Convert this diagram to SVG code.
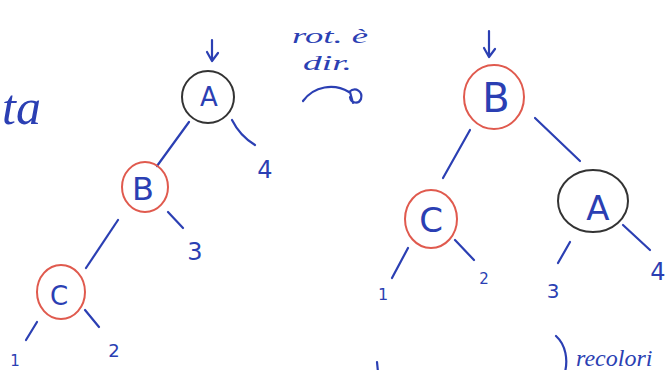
<svg xmlns="http://www.w3.org/2000/svg" width="670" height="370" viewBox="0 0 670 370">
<style>
.ink{fill:none;stroke:#2b3fb3;stroke-width:2.2;stroke-linecap:round;stroke-linejoin:round}
.red{fill:none;stroke:#e05a4e;stroke-width:2}
.blk{fill:none;stroke:#333;stroke-width:2}
.lbl{fill:#2b3fb3;font-family:"DejaVu Sans","Liberation Sans",sans-serif;text-anchor:middle}
.hand{fill:#2b3fb3;font-family:"Liberation Serif",serif;font-style:italic}
</style>
<rect width="670" height="370" fill="#fff"/>
<text class="hand" x="2" y="124" font-size="50">ta</text>
<text class="hand" x="292" y="43" font-size="22" textLength="76" lengthAdjust="spacingAndGlyphs">rot. è</text>
<text class="hand" x="303" y="70" font-size="22" textLength="49" lengthAdjust="spacingAndGlyphs">dir.</text>
<path class="ink" d="M303,101 C314,86 334,83 349,92"/>
<path class="ink" d="M349,92 C356,86 363,92 361,99 C359,104 351,104 350,97 M350,92 L353,103"/>

<g id="connectors">
<path class="ink" d="M212,40 L212,60 M207,52 L212,61 L218,53"/>
<path class="ink" d="M489,31 L489,56 M484,48 L489,57 L495,49"/>
<path class="ink" d="M189,122 L157,166"/>
<path class="ink" d="M232,120 Q240,136 255,145"/>
<path class="ink" d="M168,212 L183,228"/>
<path class="ink" d="M118,220 L86,268"/>
<path class="ink" d="M37,322 L26,340"/>
<path class="ink" d="M85,310 L99,327"/>
<path class="ink" d="M470,130 L443,178"/>
<path class="ink" d="M535,118 L580,161"/>
<path class="ink" d="M408,248 L392,278"/>
<path class="ink" d="M455,240 L474,260"/>
<path class="ink" d="M570,242 L558,263"/>
<path class="ink" d="M623,225 L650,250"/>
<path class="ink" d="M377,362 L378,372"/>
<path class="ink" d="M556,336 C566,345 568,360 565,372"/>
</g>

<g id="nodeA1"><ellipse class="blk" cx="208" cy="97" rx="26" ry="26"/><text class="lbl" x="209" y="106" font-size="26">A</text></g>
<g id="nodeB1"><ellipse class="red" cx="145" cy="187" rx="23" ry="25"/><text class="lbl" x="143" y="200" font-size="32">B</text></g>
<g id="nodeC1"><ellipse class="red" cx="61" cy="292" rx="24" ry="27"/><text class="lbl" x="59" y="305" font-size="26">C</text></g>
<g id="leaf4a"><text class="lbl" x="265" y="178" font-size="24">4</text></g>
<g id="leaf3a"><text class="lbl" x="195" y="260" font-size="24">3</text></g>
<g id="leaf2a"><text class="lbl" x="114" y="357" font-size="18">2</text></g>
<g id="leaf1a"><text class="lbl" x="15" y="366" font-size="15">1</text></g>

<g id="nodeB2"><ellipse class="red" cx="494" cy="97" rx="30" ry="32"/><text class="lbl" x="496" y="112" font-size="40">B</text></g>
<g id="nodeC2"><ellipse class="red" cx="431" cy="219" rx="26" ry="29"/><text class="lbl" x="431" y="232" font-size="34">C</text></g>
<g id="nodeA2"><ellipse class="blk" cx="593" cy="201" rx="35" ry="31"/><text class="lbl" x="598" y="220" font-size="34">A</text></g>
<g id="leaf1b"><text class="lbl" x="383" y="300" font-size="16">1</text></g>
<g id="leaf2b"><text class="lbl" x="484" y="284" font-size="15">2</text></g>
<g id="leaf3b"><text class="lbl" x="553" y="298" font-size="20">3</text></g>
<g id="leaf4b"><text class="lbl" x="658" y="280" font-size="24">4</text></g>

<text class="hand" x="576" y="366" font-size="24">recolori</text>
</svg>
